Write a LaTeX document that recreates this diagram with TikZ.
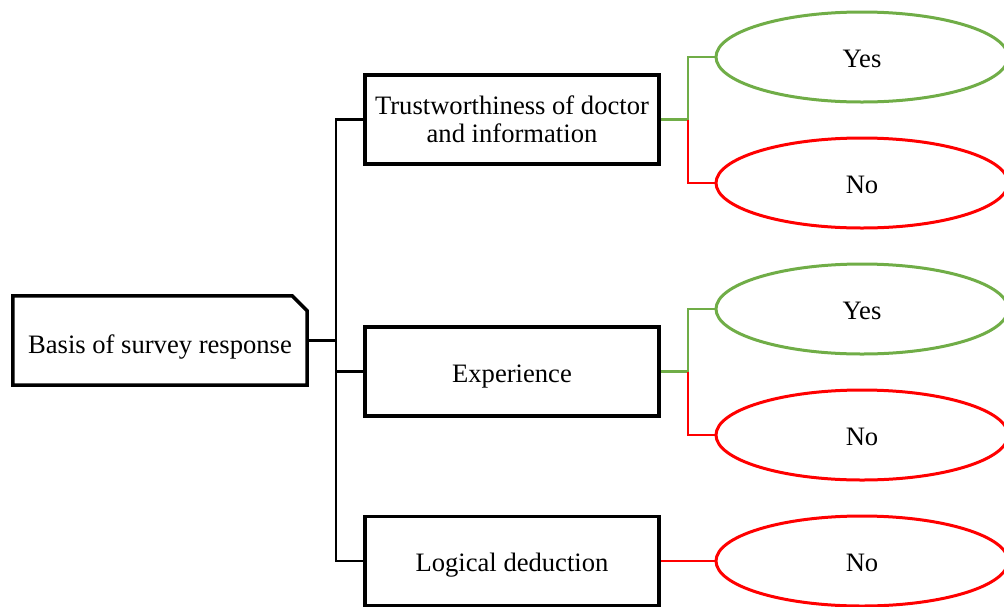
\documentclass[tikz,border=0pt]{standalone}
\usepackage{fontspec}
\setmainfont{Liberation Serif}
\usetikzlibrary{shapes.geometric}
\definecolor{okgreen}{HTML}{70AD47}
\definecolor{nored}{HTML}{FF0000}
\begin{document}
\begin{tikzpicture}[x=1pt,y=-1pt,
  every node/.style={font=\fontsize{26.6}{28}\selectfont, text height=21pt, text depth=0pt},
  catbox/.style={draw, line width=3.5pt, rectangle, minimum width=294pt, minimum height=89pt, inner sep=0pt, align=center},
  answer/.style={ellipse, line width=3pt, minimum width=292pt, minimum height=90pt, inner sep=0pt},
  yesans/.style={answer, draw=okgreen},
  noans/.style={answer, draw=nored},
  link/.style={line width=2.4pt},
  yeslink/.style={line width=2.4pt, draw=okgreen},
  nolink/.style={line width=2.4pt, draw=nored}]
\clip (0,0) rectangle (1004,606);
\useasboundingbox (0,0) rectangle (1004,606);

% root node with a cut top-right corner
\node[minimum width=294pt, minimum height=89pt, inner sep=0pt, text height=26pt] (root) at (160,340.5) {Basis of survey response};
\draw[line width=3.5pt, line join=miter]
  (root.north west) -- ([xshift=-15pt]root.north east) -- ([yshift=-15pt]root.north east)
  -- (root.south east) -- (root.south west) -- cycle;

% categories
\node[catbox, text height=45pt] (b1) at (512,119.5) {Trustworthiness of doctor\\and information};
\node[catbox] (b2) at (512,371.5) {Experience};
\node[catbox] (b3) at (512,561) {Logical deduction};

% answers
\node[yesans] (y1) at (862,57) {Yes};
\node[noans]  (n1) at (862,183) {No};
\node[yesans] (y2) at (862,309) {Yes};
\node[noans]  (n2) at (862,435) {No};
\node[noans]  (n3) at (862,561) {No};

% tree trunk
\coordinate (tr) at (336,0);
\draw[link] (root.east) -- (root.east -| tr);
\draw[link] (b1.west) -- (b1.west -| tr) -- (b3.west -| tr) -- (b3.west);
\draw[link] (b2.west) -- (b2.west -| tr);

% answer forks
\coordinate (fk) at (688,0);
\draw[yeslink] (b1.east) -- (b1.east -| fk) |- (y1.west);
\draw[nolink] (b1.east -| fk) |- (n1.west);
\draw[yeslink] (b2.east) -- (b2.east -| fk) |- (y2.west);
\draw[nolink] (b2.east -| fk) |- (n2.west);
\draw[nolink] (b3.east) -- (n3.west);
\end{tikzpicture}
\end{document}
